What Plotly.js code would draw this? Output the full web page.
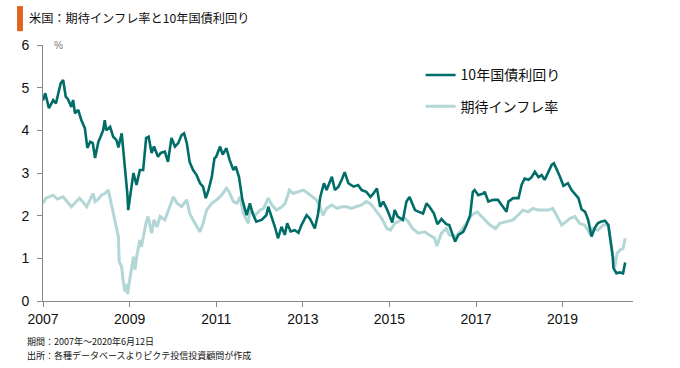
<!DOCTYPE html>
<html><head><meta charset="utf-8">
<script src="https://cdn.plot.ly/plotly-3.0.1.min.js"></script>
<style>html,body{margin:0;padding:0;background:#fff;}#chart{width:680px;height:368px;}</style>
</head><body><div id="chart"></div>
<script>
const yieldDates = ["2007-01-01","2007-01-20","2007-02-20","2007-03-15","2007-03-28","2007-04-20","2007-05-08","2007-05-30","2007-06-20","2007-07-12","2007-07-31","2007-08-28","2007-09-12","2007-09-28","2007-10-25","2007-11-20","2007-12-20",
"2008-01-10","2008-02-03","2008-02-25","2008-03-15","2008-04-12","2008-05-01","2008-05-22","2008-06-05","2008-06-18","2008-07-20","2008-08-15","2008-09-12","2008-09-28","2008-10-26","2008-11-06","2008-11-22","2008-12-12","2008-12-20",
"2009-01-10","2009-02-02","2009-02-28","2009-03-28","2009-04-25","2009-05-20","2009-06-10","2009-07-05","2009-07-25","2009-08-28","2009-09-20","2009-10-25","2009-11-20","2009-12-20",
"2010-01-18","2010-02-15","2010-03-15","2010-04-05","2010-04-28","2010-05-22","2010-06-20","2010-07-20","2010-08-18","2010-09-12","2010-10-05","2010-10-28","2010-11-25","2010-12-17",
"2011-01-01","2011-02-03","2011-02-25","2011-03-28","2011-04-25","2011-05-26","2011-06-15","2011-07-12","2011-08-10","2011-09-15","2011-10-12","2011-11-05","2011-12-05",
"2012-01-18","2012-02-28","2012-03-15","2012-04-12","2012-05-10","2012-06-05","2012-07-05","2012-08-02","2012-08-22","2012-09-20","2012-10-25","2012-11-25","2012-12-20",
"2013-02-02","2013-03-02","2013-04-12","2013-05-10","2013-05-28","2013-06-28","2013-07-20","2013-09-03","2013-09-28","2013-10-28","2013-11-25","2013-12-20",
"2014-01-20","2014-03-05","2014-04-12","2014-05-12","2014-06-20","2014-07-25","2014-08-20","2014-09-18","2014-10-15","2014-11-10","2014-12-15",
"2015-01-25","2015-02-15","2015-03-12","2015-04-25","2015-05-25","2015-06-20","2015-07-15","2015-08-05","2015-08-28","2015-10-12","2015-11-10","2015-12-05",
"2016-01-12","2016-02-10","2016-03-15","2016-04-25","2016-05-20","2016-06-10","2016-07-08","2016-08-05","2016-09-15","2016-10-12","2016-11-12","2016-12-05","2016-12-20",
"2017-01-20","2017-03-05","2017-03-15","2017-04-15","2017-05-25","2017-07-05","2017-08-05","2017-09-15","2017-10-01","2017-11-10","2017-12-25",
"2018-01-20","2018-02-15","2018-03-20","2018-04-15","2018-05-12","2018-06-12","2018-07-08","2018-08-03","2018-09-02","2018-10-01","2018-10-20","2018-11-10","2018-12-10",
"2019-01-08","2019-02-15","2019-03-18","2019-04-15","2019-05-15","2019-06-10","2019-07-10","2019-08-05","2019-09-02","2019-10-01","2019-10-25","2019-11-20","2019-12-25",
"2020-01-22","2020-02-05","2020-02-28","2020-03-05","2020-03-30","2020-04-28","2020-05-25","2020-06-12"];
const yieldValues = [4.70,4.87,4.52,4.65,4.71,4.63,4.83,5.10,5.18,4.79,4.73,4.55,4.71,4.40,4.48,4.24,4.05,
3.59,3.73,3.70,3.35,3.73,3.85,4.00,4.24,4.00,4.08,3.85,3.77,3.60,3.93,3.62,3.00,2.53,2.13,
2.60,3.00,2.72,3.07,3.07,3.82,3.85,3.47,3.62,3.38,3.47,3.50,3.26,3.82,
3.62,3.70,3.89,3.93,3.70,3.26,3.07,2.95,2.76,2.68,2.41,2.60,2.91,3.34,
3.38,3.62,3.43,3.58,3.30,3.07,3.15,2.91,2.37,2.01,2.29,2.05,1.86,
1.90,2.01,2.21,1.97,1.74,1.47,1.74,1.55,1.82,1.63,1.66,1.60,1.78,
2.01,1.93,1.70,2.05,2.44,2.76,2.60,2.91,2.60,2.68,2.84,3.02,
2.76,2.68,2.72,2.60,2.56,2.44,2.52,2.64,2.21,2.33,2.13,
1.84,2.13,1.98,1.90,2.33,2.44,2.25,2.13,2.10,2.05,2.29,2.21,
2.05,1.80,1.92,1.80,1.78,1.59,1.39,1.55,1.62,1.78,2.01,2.56,2.60,
2.48,2.52,2.56,2.33,2.37,2.37,2.25,2.09,2.33,2.41,2.41,
2.72,2.87,2.84,2.90,3.03,2.90,2.95,2.84,3.00,3.19,3.23,3.11,2.91,
2.70,2.76,2.60,2.52,2.41,2.15,2.09,1.90,1.51,1.72,1.82,1.86,1.88,
1.78,1.51,1.04,0.77,0.65,0.67,0.65,0.90];

const inflDates = ["2007-01-01","2007-01-25","2007-03-28","2007-05-01","2007-06-20","2007-07-30","2007-08-28","2007-09-25","2007-11-05","2007-11-30",
"2008-01-05","2008-01-25","2008-02-28","2008-03-15","2008-04-05","2008-05-08","2008-06-05","2008-07-05","2008-07-20","2008-08-15","2008-09-08","2008-09-28","2008-10-05","2008-10-26","2008-11-06","2008-11-22","2008-12-05","2008-12-15","2008-12-25",
"2009-01-20","2009-02-02","2009-02-15","2009-03-01","2009-03-28","2009-04-10","2009-05-18","2009-06-05","2009-07-05","2009-07-25","2009-08-20","2009-09-15","2009-10-25","2009-12-05",
"2010-01-05","2010-02-05","2010-03-15","2010-04-28","2010-05-22","2010-06-20","2010-07-20","2010-08-18","2010-09-12","2010-10-12","2010-11-25",
"2011-01-05","2011-02-15","2011-03-28","2011-04-20","2011-05-26","2011-06-25","2011-07-20","2011-08-18","2011-09-28","2011-10-12","2011-11-25",
"2012-01-05","2012-02-05","2012-03-15","2012-04-15","2012-05-25","2012-07-10","2012-08-05","2012-09-10","2012-10-10","2012-11-25",
"2013-01-05","2013-02-15","2013-03-28","2013-04-25","2013-05-25","2013-06-20","2013-07-20","2013-09-03","2013-10-15","2013-11-25",
"2014-01-05","2014-02-15","2014-03-25","2014-05-12","2014-06-20","2014-07-20","2014-08-15","2014-09-28","2014-10-28","2014-12-10",
"2015-01-10","2015-02-15","2015-03-20","2015-05-12","2015-06-10","2015-07-15","2015-09-01","2015-10-28","2015-12-01",
"2016-01-18","2016-02-05","2016-03-15","2016-04-25","2016-05-20","2016-07-15","2016-08-20","2016-10-12","2016-11-25",
"2017-01-10","2017-02-20","2017-03-20","2017-04-28","2017-06-15","2017-07-20","2017-09-15","2017-11-10","2017-12-20",
"2018-02-01","2018-03-15","2018-04-25","2018-06-10","2018-07-20","2018-09-05","2018-10-10","2018-11-10","2018-11-25","2018-12-25",
"2019-02-01","2019-03-05","2019-04-15","2019-05-25","2019-07-05","2019-08-18","2019-09-10","2019-10-28","2019-12-10",
"2020-01-22","2020-02-05","2020-03-03","2020-03-15","2020-04-05","2020-05-01","2020-05-25","2020-06-12"];
const inflValues = [2.29,2.41,2.48,2.39,2.44,2.29,2.21,2.29,2.41,2.33,
2.21,2.33,2.52,2.33,2.37,2.48,2.52,2.60,2.41,2.13,1.82,1.51,0.92,0.80,0.49,0.22,0.40,0.16,0.37,
0.80,1.04,0.73,1.04,1.43,1.27,1.82,1.98,1.59,1.90,1.74,1.98,1.90,2.21,
2.44,2.29,2.21,2.37,2.05,1.90,1.74,1.62,1.82,2.13,2.29,
2.37,2.48,2.64,2.56,2.33,2.29,2.44,2.05,1.82,2.13,2.01,
2.13,2.17,2.41,2.25,2.13,2.21,2.29,2.60,2.52,2.56,
2.60,2.52,2.44,2.37,2.21,2.01,2.17,2.25,2.17,2.21,
2.21,2.17,2.21,2.25,2.33,2.29,2.21,2.05,1.94,1.70,
1.66,1.82,1.86,1.94,1.86,1.70,1.59,1.62,1.55,
1.47,1.29,1.59,1.70,1.55,1.51,1.62,1.82,2.01,
2.09,1.98,1.90,1.78,1.70,1.82,1.86,1.90,2.01,
2.13,2.09,2.17,2.13,2.13,2.13,2.17,2.01,1.94,1.78,
1.86,1.94,1.98,1.82,1.78,1.59,1.70,1.66,1.78,
1.78,1.51,0.96,0.77,1.12,1.20,1.23,1.47];

const seriesNames = ["10年国債利回り","期待インフレ率"];
const chartTitle = "米国：期待インフレ率と10年国債利回り";
const footLines = ["期間：2007年～2020年6月12日","出所：各種データベースよりピクテ投信投資顧問が作成"];

const jp = '"Noto Sans CJK JP", "Liberation Sans", Arial, sans-serif';
const num = '"Liberation Sans", Arial, sans-serif';

const traces = [
  {x: inflDates, y: inflValues, type: 'scatter', mode: 'lines', name: seriesNames[1],
   line: {color: '#b3d6d6', width: 3}, legendgroup: 'b', legendrank: 2},
  {x: yieldDates, y: yieldValues, type: 'scatter', mode: 'lines', name: seriesNames[0],
   line: {color: '#006d68', width: 2.6}, legendgroup: 'a', legendrank: 1}
];

const layout = {
  width: 680, height: 368,
  margin: {l: 43, r: 47, t: 45, b: 67},
  paper_bgcolor: '#fff', plot_bgcolor: '#fff',
  showlegend: true,
  legend: {x: 0.64, y: 0.944, xanchor: 'left', yanchor: 'top', font: {family: jp, size: 14, color: '#111'},
           bgcolor: 'rgba(0,0,0,0)', itemwidth: 30, tracegroupgap: 10},
  xaxis: {type: 'date', range: ['2007-01-01', '2020-08-17'], tick0: '2007-01-01', dtick: 'M24', tickformat: '%Y',
          showgrid: false, zeroline: false, showline: true, linecolor: '#888', linewidth: 1,
          ticks: 'outside', ticklen: 5, tickcolor: '#888', tickfont: {family: num, size: 14, color: '#111'}},
  yaxis: {range: [0, 6], dtick: 1, showgrid: false, zeroline: false, showline: true, linecolor: '#888', linewidth: 1,
          ticks: 'outside', ticklen: 5, tickcolor: '#888', ticklabelstandoff: 5,
          tickfont: {family: num, size: 14, color: '#111'}},
  shapes: [{type: 'rect', xref: 'paper', yref: 'paper', x0: -0.044, x1: -0.034, y0: 1.054, y1: 1.152,
            fillcolor: '#e0641e', line: {width: 0}}],
  annotations: [
    {text: chartTitle, xref: 'paper', yref: 'paper', x: -0.027, y: 1.107, xanchor: 'left', yanchor: 'middle',
     showarrow: false, font: {family: jp, size: 12.2, color: '#111'}},
    {text: '%', xref: 'paper', yref: 'paper', x: 0.016, y: 1.0, xanchor: 'left', yanchor: 'middle',
     showarrow: false, font: {family: num, size: 10, color: '#777'}},
    {text: footLines[0], xref: 'paper', yref: 'paper', x: -0.031, y: -0.158, xanchor: 'left', yanchor: 'middle',
     showarrow: false, font: {family: jp, size: 9, color: '#111'}},
    {text: footLines[1], xref: 'paper', yref: 'paper', x: -0.031, y: -0.214, xanchor: 'left', yanchor: 'middle',
     showarrow: false, font: {family: jp, size: 9, color: '#111'}}
  ]
};

Plotly.newPlot('chart', traces, layout, {displayModeBar: false, staticPlot: true});
</script></body></html>
